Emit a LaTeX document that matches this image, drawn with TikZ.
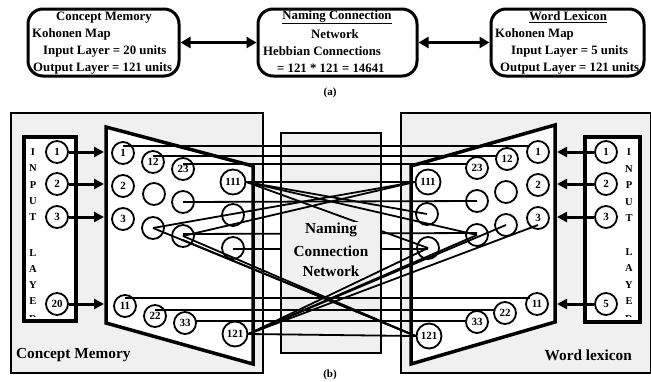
\documentclass[tikz,border=0pt]{standalone}
\usepackage{fontspec}
\setmainfont{Liberation Serif}
\usetikzlibrary{calc,arrows.meta}
\definecolor{panelgray}{HTML}{F0F0F0}

\begin{document}
\begin{tikzpicture}[x=1pt,y=-1pt,
  boxtext/.style={inner sep=0pt,font=\bfseries\fontsize{12.8}{14}\selectfont},
  topbox/.style={draw,line width=3pt,rounded corners=15pt,inner sep=0pt},
  dblarrow/.style={line width=3pt,{Triangle[length=10pt,width=11pt]}-{Triangle[length=10pt,width=11pt]}},
  panel/.style={draw,line width=1.4pt,fill=panelgray},
  unit/.style={circle,draw,line width=1.8pt,minimum size=22pt,inner sep=0pt,
    font=\bfseries\fontsize{11}{11}\selectfont},
  bigunit/.style={unit,minimum size=25pt},
  link/.style={line width=1.8pt},
  mapedge/.style={line width=3.5pt,line join=miter},
  inbox/.style={line width=4pt},
  feed/.style={line width=3pt,-{Triangle[length=10pt,width=10pt]}},
  letter/.style={inner sep=0pt,font=\bfseries\fontsize{10.5}{10.5}\selectfont},
  caption/.style={inner sep=0pt,font=\bfseries\fontsize{11}{11}\selectfont},
  paneltitle/.style={inner sep=0pt,font=\bfseries\fontsize{15.3}{16}\selectfont},
]
\useasboundingbox (0,0) rectangle (651,381);

% ---------------- (a) overview ----------------
\node[topbox,minimum width=151pt,minimum height=67pt] (boxA) at (103.5,42.5) {};
\node[topbox,minimum width=159pt,minimum height=67pt] (boxB) at (337.5,42.5) {};
\node[topbox,minimum width=153pt,minimum height=67pt] (boxC) at (567.5,42.5) {};

\node[boxtext] (tA1) at (104,18) {Concept Memory};
\node[boxtext,anchor=west] (tA2) at (32,34) {Kohonen Map};
\node[boxtext,anchor=west] (tA3) at (43,51) {Input Layer = 20 units};
\node[boxtext,anchor=west] (tA4) at (33,68) {Output Layer = 121 units};

\node[boxtext] (tB1) at (337,17) {\underline{Naming Connection}};
\node[boxtext] (tB2) at (335,34) {Network};
\node[boxtext,anchor=west] (tB3) at (263,51) {Hebbian Connections};
\node[boxtext,anchor=west] (tB4) at (277,68) {= 121 * 121 = 14641};

\node[boxtext] (tC1) at (568,17) {\underline{Word Lexicon}};
\node[boxtext,anchor=west] (tC2) at (495,34) {Kohonen Map};
\node[boxtext,anchor=west] (tC3) at (511,51) {Input Layer = 5 units};
\node[boxtext,anchor=west] (tC4) at (500,68) {Output Layer = 121 units};

\draw[dblarrow] (boxA.east) -- (boxB.west);
\draw[dblarrow] (boxB.east) -- (boxC.west);

\node[caption] (capA) at (330,93) {(a)};

% ---------------- (b) detailed network ----------------
% background panels
\draw[panel] (11,113) rectangle (263,373);
\draw[panel] (401,113) rectangle (651,373);
\draw[panel] (281,133) rectangle (381,353);

% Kohonen map outlines
\coordinate (L1) at (106,127);
\coordinate (L2) at (253,166);
\coordinate (L3) at (253,364);
\coordinate (L4) at (106,323);
\coordinate (R1) at (555,125);
\coordinate (R2) at (411,166);
\coordinate (R3) at (411,364);
\coordinate (R4) at (555,322);
\fill[white] (L1) -- (L2) -- (L3) -- (L4) -- cycle;
\fill[white] (R1) -- (R2) -- (R3) -- (R4) -- cycle;

% input layers
\fill[white] (24,137) rectangle (76,321);
\fill[white] (585,137) rectangle (640,322);
\begin{scope}
  \clip (24,137) rectangle (76,316);
  \foreach \ch/\y [count=\i] in {I/152,N/168,P/185,U/201,T/217,L/253,A/269,Y/285,E/301,R/319.5}
    \node[letter] (li\i) at (33,\y) {\ch};
\end{scope}
\begin{scope}
  \clip (585,137) rectangle (640,316);
  \foreach \ch/\y [count=\i] in {I/152,N/169,P/185,U/202,T/218,L/252,A/268,Y/285,E/301,R/319.5}
    \node[letter] (ri\i) at (629,\y) {\ch};
\end{scope}

\node[unit] (i1) at (57,152) {1};
\node[unit] (i2) at (57,184) {2};
\node[unit] (i3) at (57,217) {3};
\node[unit] (i20) at (57,304) {20};
\node[unit] (j1) at (606,152) {1};
\node[unit] (j2) at (606,184) {2};
\node[unit] (j3) at (606,217) {3};
\node[unit] (j5) at (606,304) {5};

% concept memory units
\node[unit] (a1) at (123,153) {1};
\node[unit] (a12) at (153,162) {12};
\node[unit] (a23) at (183,169) {23};
\node[bigunit] (a111) at (233,182) {111};
\node[unit] (a2) at (123,186) {2};
\node[unit] (ae1) at (154,194) {};
\node[unit] (ae2) at (183,202) {};
\node[unit] (ae3) at (233,215) {};
\node[unit] (a3) at (123,219) {3};
\node[unit] (ae4) at (153,228) {};
\node[unit] (ae5) at (183,236) {};
\node[unit] (ae6) at (233,248) {};
\node[unit] (a11) at (125,306) {11};
\node[unit] (a22) at (155,316) {22};
\node[unit] (a33) at (185,323) {33};
\node[bigunit] (a121) at (235,334) {121};

% word lexicon units
\node[unit] (b1) at (538,152) {1};
\node[unit] (b12) at (507,159) {12};
\node[unit] (b23) at (477,168) {23};
\node[bigunit] (b111) at (428,182) {111};
\node[unit] (b2) at (538,185) {2};
\node[unit] (be1) at (506,192) {};
\node[unit] (be2) at (477,201) {};
\node[unit] (be3) at (427,214) {};
\node[unit] (b3) at (538,218) {3};
\node[unit] (be4) at (506,225) {};
\node[unit] (be5) at (477,235) {};
\node[unit] (be6) at (428,248) {};
\node[unit] (b11) at (537,304) {11};
\node[unit] (b22) at (505,313) {22};
\node[unit] (b33) at (477,322) {33};
\node[bigunit] (b121) at (429,336) {121};

% Hebbian links: matching units
\draw[link] ($(a1.center)+(0,-7)$) -- ($(b1.center)+(-9,-6)$);
\draw[link] ($(a12.center)+(0,-6)$) -- ($(b12.center)+(-10,-3)$);
\draw[link] ($(a23.center)+(0,-5)$) -- ($(b23.center)+(-10,-4)$);
\draw[link] (a111.east) -- (b111.west);
\draw[link] (ae2.center) -- (be2.center);
\draw[link] ($(ae5.center)+(0,-2)$) -- ($(be5.center)+(0,-2)$);
\draw[link] ($(ae6.center)+(0,1)$) -- ($(be6.center)+(0,1)$);
\draw[link] ($(a11.center)+(0,-8)$) -- ($(b11.center)+(-7,-6)$);
\draw[link] ($(a22.center)+(0,-6)$) -- ($(b22.center)+(-10,-3)$);
\draw[link] ($(a33.center)+(11,-2)$) -- ($(b33.center)+(-11,-1)$);
\draw[link] (a121.east) -- (b121.west);

% Hebbian links: crossing units
\draw[link] (a111.east) -- (be3.center);
\draw[link] (a111.east) -- (be5.center);
\draw[link] (a111.east) -- (be6.center);
\draw[link] (b111.west) -- (ae4.center);
\draw[link] (b111.west) -- (ae5.center);
\draw[link] (ae4.center) -- (b121.west);
\draw[link] (ae5.center) -- (b121.west);
\draw[link] ($(ae5.center)+(0,4)$) -- (b121.west);
\draw[link] (be6.center) -- (a121.east);
\draw[link] (be5.center) -- (a121.east);
\draw[link] (be4.center) -- (a121.east);
\draw[link] ($(b3.center)+(0,7)$) -- (a121.east);

% label area of the connection network
\fill[panelgray] (282,222) rectangle (380,265);

% outlines on top
\draw[mapedge] (L1) -- (L2) -- (L3) -- (L4) -- cycle;
\draw[mapedge] (R1) -- (R2) -- (R3) -- (R4) -- cycle;
\draw[inbox] (24,137) rectangle (76,321);
\draw[inbox] (585,137) rectangle (640,322);

% input feeds
\coordinate (lf) at (104,0);
\coordinate (rf) at (557,0);
\foreach \n in {i1,i2,i3,i20}
  \draw[feed] (\n.east) -- (\n.east -| lf);
\foreach \n in {j1,j2,j3,j5}
  \draw[feed] (\n.west) -- (\n.west -| rf);

% labels
\node[paneltitle] (nc1) at (331,230) {Naming};
\node[paneltitle] (nc2) at (331,251) {Connection};
\node[paneltitle] (nc3) at (331,271) {Network};
\node[paneltitle,anchor=west] (cm) at (16,355) {Concept Memory};
\node[paneltitle,anchor=east] (wl) at (632,355) {Word lexicon};
\node[caption] (capB) at (330,375) {(b)};
\end{tikzpicture}
\end{document}
